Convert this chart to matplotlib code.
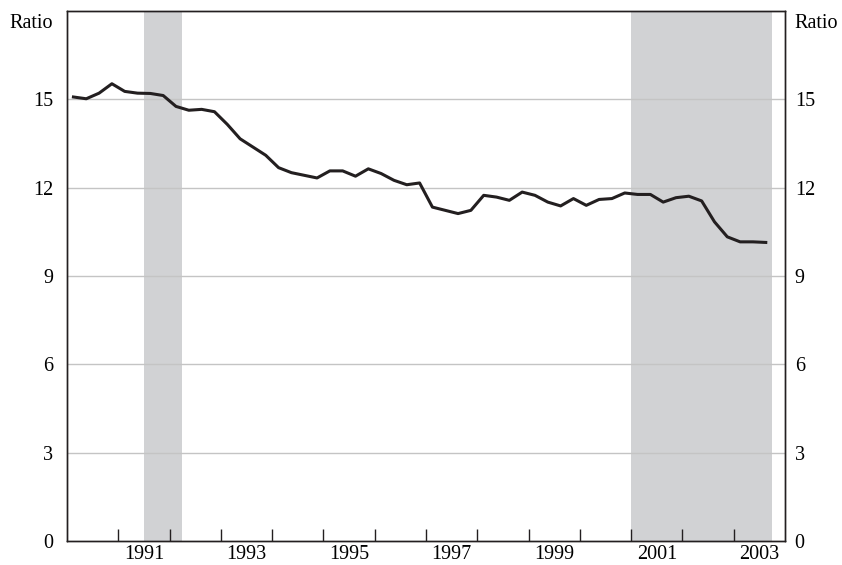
import numpy as np
import matplotlib
matplotlib.use("Agg")
import matplotlib.pyplot as plt

# quarterly ratio, 1990Q1 - 2003Q3
ratio = [15.08, 15.02, 15.21, 15.53, 15.27, 15.21, 15.20, 15.13,
         14.76, 14.63, 14.66, 14.58, 14.15, 13.66, 13.38, 13.10,
         12.68, 12.51, 12.42, 12.33, 12.57, 12.57, 12.39, 12.64,
         12.48, 12.25, 12.10, 12.16, 11.34, 11.23, 11.12, 11.23,
         11.74, 11.68, 11.57, 11.85, 11.74, 11.51, 11.38, 11.63,
         11.40, 11.60, 11.63, 11.82, 11.77, 11.77, 11.51, 11.66,
         11.71, 11.55, 10.84, 10.33, 10.16, 10.16, 10.14]
start_year = 1990
quarters = start_year + (np.arange(len(ratio)) + 0.5) / 4

# shaded periods
shaded = [(1991.5, 1992.25), (2001.0, 2003.75)]

year_ticks = list(range(1991, 2004))
year_labels = [1991, 1993, 1995, 1997, 1999, 2001, 2003]
y_ticks = [0, 3, 6, 9, 12, 15]

plt.rcParams['font.family'] = ['Liberation Serif', 'DejaVu Serif']
fs = 14.5

fig = plt.figure(figsize=(8.42, 5.65), dpi=100)
ax = fig.add_axes([0.0796, 0.0425, 0.8527, 0.938])

for a, b in shaded:
    ax.axvspan(a, b, color='#d1d2d4', lw=0, zorder=0)

for v in y_ticks[1:]:
    ax.axhline(v, color='#c4c4c4', lw=1.0, zorder=1)

ax.plot(quarters, ratio, color='#231f20', lw=2.2, zorder=3)

ax.set_xlim(1990, 2004)
ax.set_ylim(0, 18)

# year ticks inward, labels centred in the year
ax.set_xticks(year_ticks)
ax.set_xticklabels([])
ax.tick_params(axis='x', which='major', direction='in', length=9, width=1, color='#231f20')
ax.set_xticks([y + 0.5 for y in year_labels], minor=True)
ax.set_xticklabels([str(y) for y in year_labels], minor=True)
ax.tick_params(axis='x', which='minor', length=0, pad=3, labelsize=fs)

ax.set_yticks(y_ticks)
ax.set_yticklabels([str(v) for v in y_ticks])
ax.tick_params(axis='y', length=0, pad=10, labelsize=fs)

ax2 = ax.twinx()
ax2.set_ylim(0, 18)
ax2.set_yticks(y_ticks)
ax2.set_yticklabels([str(v) for v in y_ticks])
ax2.tick_params(axis='y', length=0, pad=7, labelsize=fs)

for a in (ax, ax2):
    for s in a.spines.values():
        s.set_color('#231f20')
        s.set_linewidth(1.0)

fig.text(0.011, 0.958, 'Ratio', ha='left', va='center', fontsize=fs)
fig.text(0.943, 0.958, 'Ratio', ha='left', va='center', fontsize=fs)

fig.savefig('out.png', dpi=100)
